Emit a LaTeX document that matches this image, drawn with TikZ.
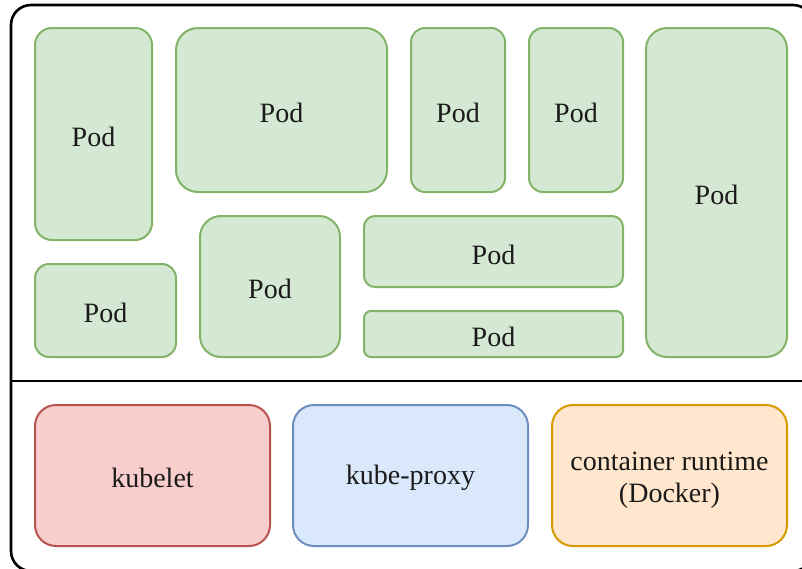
\documentclass[tikz,border=0pt]{standalone}
\usepackage{fontspec}
\setmainfont{Liberation Serif}
\definecolor{podfill}{HTML}{D5E8D4}
\definecolor{podline}{HTML}{82B366}
\definecolor{redfill}{HTML}{F8CECC}
\definecolor{redline}{HTML}{B85450}
\definecolor{bluefill}{HTML}{DAE8FC}
\definecolor{blueline}{HTML}{6C8EBF}
\definecolor{orfill}{HTML}{FFE6CC}
\definecolor{orline}{HTML}{D79B00}
\definecolor{txt}{HTML}{1A1A1A}
\newcommand\dnshift[2][-2.5pt]{\raisebox{#1}[\height][\depth]{#2}}
\tikzset{
  box/.style={rectangle, inner sep=0pt, outer sep=0pt, line width=2pt, text=txt,
    font=\fontsize{28}{32}\selectfont, align=center},
  pod/.style={box, draw=podline, fill=podfill},
  redbox/.style={box, draw=redline, fill=redfill},
  bluebox/.style={box, draw=blueline, fill=bluefill},
  orbox/.style={box, draw=orline, fill=orfill},
  sz/.style n args={3}{minimum width=#1, minimum height=#2, rounded corners=#3},
}
\begin{document}
\begin{tikzpicture}[x=1pt,y=-1pt]
\useasboundingbox (0,0) rectangle (802,568);
\clip (0,0) rectangle (802,568);
\fill[white] (0,0) rectangle (802,568);
\node[draw=black, line width=2.6pt, rectangle, rounded corners=20, inner sep=0pt,
  minimum width=802, minimum height=566] (nodebox) at (412,288) {};
\coordinate (divL) at (11,381);
\coordinate (divR) at (813,381);
\draw[line width=2.2pt] (divL) -- (divR);
% pods
\node[pod, sz={117}{212}{17}] (p1) at (93.5,134) {\dnshift{Pod}};
\node[pod, sz={211}{164}{22}] (p2) at (281.5,110) {\dnshift{Pod}};
\node[pod, sz={94}{164}{14}] (p3) at (458,110) {\dnshift{Pod}};
\node[pod, sz={94}{164}{14}] (p4) at (576,110) {\dnshift{Pod}};
\node[pod, sz={141}{329}{21}] (p5) at (716.5,192.5) {\dnshift{Pod}};
\node[pod, sz={141}{93}{14}] (p6) at (105.5,310.5) {\dnshift{Pod}};
\node[pod, sz={140}{141}{21}] (p7) at (270,286.5) {\dnshift{Pod}};
\node[pod, sz={259}{71}{11}] (p8) at (493.5,251.5) {\dnshift[-3pt]{Pod}};
\node[pod, sz={259}{46}{7}] (p9) at (493.5,334) {\dnshift{Pod}};
% components
\node[redbox, sz={235}{141}{21}] (kubelet) at (152.5,475.5) {\dnshift{kubelet}};
\node[bluebox, sz={235}{141}{21}] (proxy) at (410.5,475.5) {\dnshift[-2pt]{kube-proxy}};
\node[orbox, sz={235}{141}{21}] (runtime) at (669.5,475.5)
  {\dnshift[-4.5pt]{\begin{tabular}{@{}c@{}}container runtime\\(Docker)\end{tabular}}};
\end{tikzpicture}
\end{document}
